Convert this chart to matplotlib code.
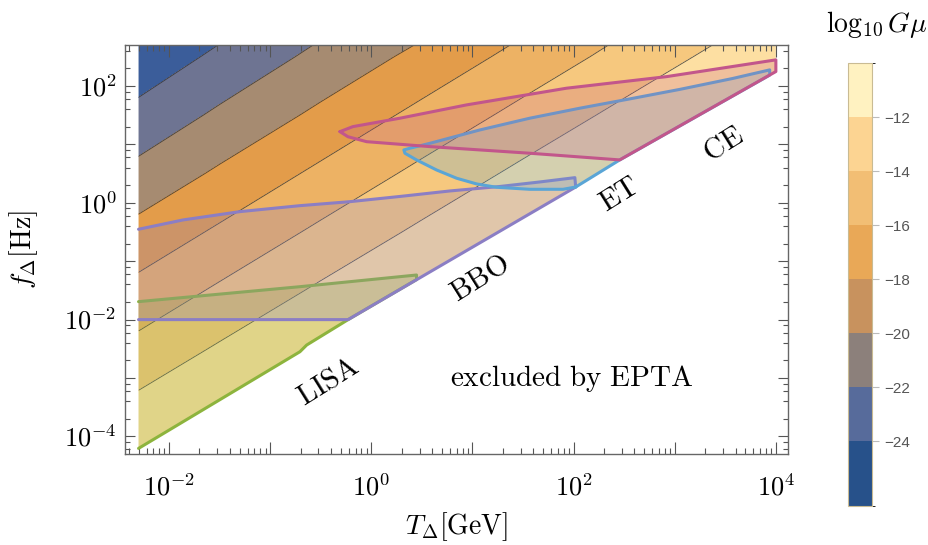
import numpy as np
import matplotlib
matplotlib.use("Agg")
import matplotlib.pyplot as plt
from matplotlib.colors import ListedColormap, BoundaryNorm
from matplotlib.patches import Polygon
from matplotlib.ticker import FixedLocator, FuncFormatter, LogLocator, NullFormatter
from matplotlib.transforms import Bbox, BboxTransformFrom
from matplotlib.cm import ScalarMappable

plt.rcParams["mathtext.fontset"] = "cm"

# ---------------------------------------------------------------------------
# log10(G mu) sampled on a (log10 T, log10 f) grid
logT_nodes = [-2.3, -1.5, -0.5, 0.5, 1.5, 2.5, 3.5, 4.0]
logf_nodes = [-4.5, -3.5, -2.5, -1.5, -0.5, 0.5, 1.5, 2.5, 2.8]
log_Gmu = [
    [-11.47, -9.88, -7.92, -6.02, -4.15, -2.33, -0.56, 0.35],
    [-13.43, -11.82, -9.84, -7.92, -6.03, -4.18, -2.39, -1.48],
    [-15.39, -13.76, -11.76, -9.82, -7.91, -6.04, -4.22, -3.30],
    [-17.38, -15.70, -13.68, -11.71, -9.78, -7.89, -6.05, -5.13],
    [-19.38, -17.69, -15.60, -13.61, -11.66, -9.75, -7.88, -6.96],
    [-21.41, -19.69, -17.57, -15.50, -13.53, -11.60, -9.72, -8.79],
    [-23.40, -21.65, -19.57, -17.45, -15.41, -13.46, -11.55, -10.62],
    [-25.37, -23.58, -21.47, -19.45, -17.34, -15.32, -13.39, -12.44],
    [-25.96, -24.16, -22.03, -20.05, -17.93, -15.87, -13.94, -12.99],
]
contour_levels = [-24, -22, -20, -18, -16, -14]
band_colors = ["#3B5D9A", "#6E7492", "#A68B71", "#E39C4A",
               "#EDB264", "#F6C87E", "#FDDFA2"]

# colour bar
bar_bounds = [-26.4, -24, -22, -20, -18, -16, -14, -12, -10]
bar_ticks = [-24, -22, -20, -18, -16, -14, -12]
bar_colors = ["#27518A", "#576B9B", "#8C807B", "#C8925E",
              "#E9A857", "#F2BE74", "#FCD492", "#FFF2C1"]

# EPTA exclusion edge (T in GeV, f in Hz)
edge_T = [0.005, 0.197, 0.2296, 0.59, 105, 286, 1.0e4]
edge_f = [6.25e-5, 2.82e-3, 3.67e-3, 1.00e-2, 1.86, 5.41, 176]

# detector sensitivity regions
lisa_T = [0.005, 0.197, 2.80, 2.80, 0.59, 0.2296, 0.197, 0.005]
lisa_f = [0.0203, 0.0366, 0.058, 0.0484, 0.0100, 3.67e-3, 2.82e-3, 6.25e-5]

bbo_T = [0.005, 0.01375, 0.0503, 0.197, 0.615, 1.92, 5.98, 18.7, 46.4, 103,
         105, 0.59, 0.005]
bbo_f = [0.352, 0.508, 0.705, 0.892, 1.044, 1.282, 1.592, 1.90, 2.27, 2.69,
         1.86, 0.0100, 0.0100]

et_T = [105, 78.7, 36.9, 17.3, 11.0, 6.97, 4.42, 2.80, 2.15, 2.10, 2.41, 3.79,
        11.8, 36.9, 115, 359, 1120, 3740, 8690, 8690, 286]
et_f = [1.86, 1.70, 1.70, 1.84, 2.10, 2.63, 3.64, 5.41, 7.04, 8.02, 8.58, 10.4,
        17.6, 28.0, 41.5, 59.9, 87.1, 134, 188, 153, 5.41]

ce_T = [0.490, 0.658, 1.92, 8.75, 85.1, 828, 1.0e4, 1.0e4, 286, 36.9, 3.79,
        0.899, 0.587]
ce_f = [16.5, 20.1, 28.0, 47.3, 91.3, 144, 279, 176, 5.41, 7.04, 9.14,
        11.1, 13.5]

# ---------------------------------------------------------------------------
W, H = 929, 545
fig = plt.figure(figsize=(W / 100, H / 100), dpi=100)
ax = fig.add_axes([125 / W, 91 / H, 663 / W, 409 / H])
ax.set_xscale("log")
ax.set_yscale("log")
xlim = (10 ** -2.435, 10 ** 4.12)
ylim = (10 ** -4.3, 10 ** 2.7)
ax.set_xlim(xlim)
ax.set_ylim(ylim)
ax.set_autoscale_on(False)

# the G mu grid lives in log10 coordinates
log_box = Bbox.from_extents(np.log10(xlim[0]), np.log10(ylim[0]),
                            np.log10(xlim[1]), np.log10(ylim[1]))
log_coords = BboxTransformFrom(log_box) + ax.transAxes

# allowed region: above the EPTA edge, between the smallest and largest T
T_lo, T_hi = edge_T[0], edge_T[-1]
region_T = [T_lo, T_hi] + edge_T[::-1]
region_f = [1e3, 1e3] + edge_f[::-1]
region = Polygon(np.column_stack([region_T, region_f]), closed=True,
                 transform=ax.transData)

cf = ax.contourf(logT_nodes, logf_nodes, log_Gmu,
                 levels=[-40] + contour_levels + [10], colors=band_colors,
                 transform=log_coords, zorder=1)
cf.set_clip_path(region)
cl = ax.contour(logT_nodes, logf_nodes, log_Gmu, levels=contour_levels,
                colors="#2e2e2e", linewidths=0.6, alpha=0.8,
                linestyles="solid", negative_linestyles="solid",
                transform=log_coords, zorder=2)
cl.set_clip_path(region)

regions = [
    (lisa_T, lisa_f, "#8DB43D", 0.25, False),
    (bbo_T, bbo_f, "#8B7EC4", 0.25, False),
    (et_T, et_f, "#5AA5D6", 0.25, True),
    (ce_T, ce_f, "#C2568B", 0.22, True),
]
z = 3
for T, f, col, a, closed in regions:
    ax.fill(T, f, facecolor=col, alpha=a, edgecolor="none", zorder=z)
    lt, lf = (T + T[:1], f + f[:1]) if closed else (T, f)
    ax.plot(lt, lf, color=col, lw=2.2, solid_joinstyle="round",
            solid_capstyle="round", zorder=z + 0.5)
    z += 1

# labels
lab = dict(fontsize=21, ha="center", va="center", rotation_mode="anchor",
           zorder=10)
ax.text(0.372, 8.9e-4, r"$\mathrm{LISA}$", rotation=32, **lab)
ax.text(11.8, 0.0515, r"$\mathrm{BBO}$", rotation=32, **lab)
ax.text(286, 1.41, r"$\mathrm{ET}$", rotation=32, **lab)
ax.text(3050, 10.2, r"$\mathrm{CE}$", rotation=32, **lab)
ax.text(96, 1.0e-3, r"$\mathrm{excluded\ by\ EPTA}$", fontsize=21,
        ha="center", va="center", zorder=10)

# axes, ticks
def pow_label(v, pos):
    e = int(round(np.log10(v)))
    return r"$10^{%d}$" % e if e % 2 == 0 else ""

ax.xaxis.set_major_locator(FixedLocator(10.0 ** np.arange(-2, 5)))
ax.xaxis.set_major_formatter(FuncFormatter(pow_label))
ax.xaxis.set_minor_locator(LogLocator(base=10, subs=np.arange(2, 10), numticks=30))
ax.xaxis.set_minor_formatter(NullFormatter())
ax.yaxis.set_major_locator(FixedLocator(10.0 ** np.arange(-4, 3)))
ax.yaxis.set_major_formatter(FuncFormatter(pow_label))
ax.yaxis.set_minor_locator(LogLocator(base=10, subs=[2, 4, 6, 8], numticks=30))
ax.yaxis.set_minor_formatter(NullFormatter())

ax.tick_params(which="both", direction="in", top=True, right=True,
               color="#555555", width=0.8, labelsize=19)
ax.tick_params(axis="x", which="major", length=8.5, pad=15)
ax.tick_params(axis="x", which="minor", length=4.3)
ax.tick_params(axis="y", which="major", length=7.5, pad=6)
ax.tick_params(axis="y", which="minor", length=3.6)
for s in ax.spines.values():
    s.set_color("#666666")
    s.set_linewidth(1.0)

ax.set_xlabel(r"$T_\Delta[\mathrm{GeV}]$", fontsize=20)
ax.xaxis.set_label_coords(0.5, -0.138)
ax.set_ylabel(r"$f_\Delta[\mathrm{Hz}]$", fontsize=20)
ax.yaxis.set_label_coords(-0.128, 0.5)

# colour bar
cax = fig.add_axes([848 / W, 39 / H, 24 / W, 443 / H])
bar_cmap = ListedColormap(bar_colors)
bar_norm = BoundaryNorm(bar_bounds, bar_cmap.N)
cb = fig.colorbar(ScalarMappable(norm=bar_norm, cmap=bar_cmap), cax=cax,
                  ticks=bar_ticks, spacing="proportional")
cb.ax.yaxis.set_major_formatter(FuncFormatter(lambda v, p: "\u2212%d" % abs(round(v))))
cb.ax.tick_params(length=5, width=0.8, color="#bbbbbb", pad=4,
                  labelsize=11, labelcolor="#555555")
for t in cb.ax.get_yticklabels():
    t.set_fontfamily("Liberation Sans")
cb.outline.set_edgecolor("#c9bb93")
cb.outline.set_linewidth(0.8)
fig.text(877 / W, 1 - 24 / H, r"$\log_{10}G\mu$", fontsize=20,
         ha="center", va="center")

fig.savefig("out.png", dpi=100)
